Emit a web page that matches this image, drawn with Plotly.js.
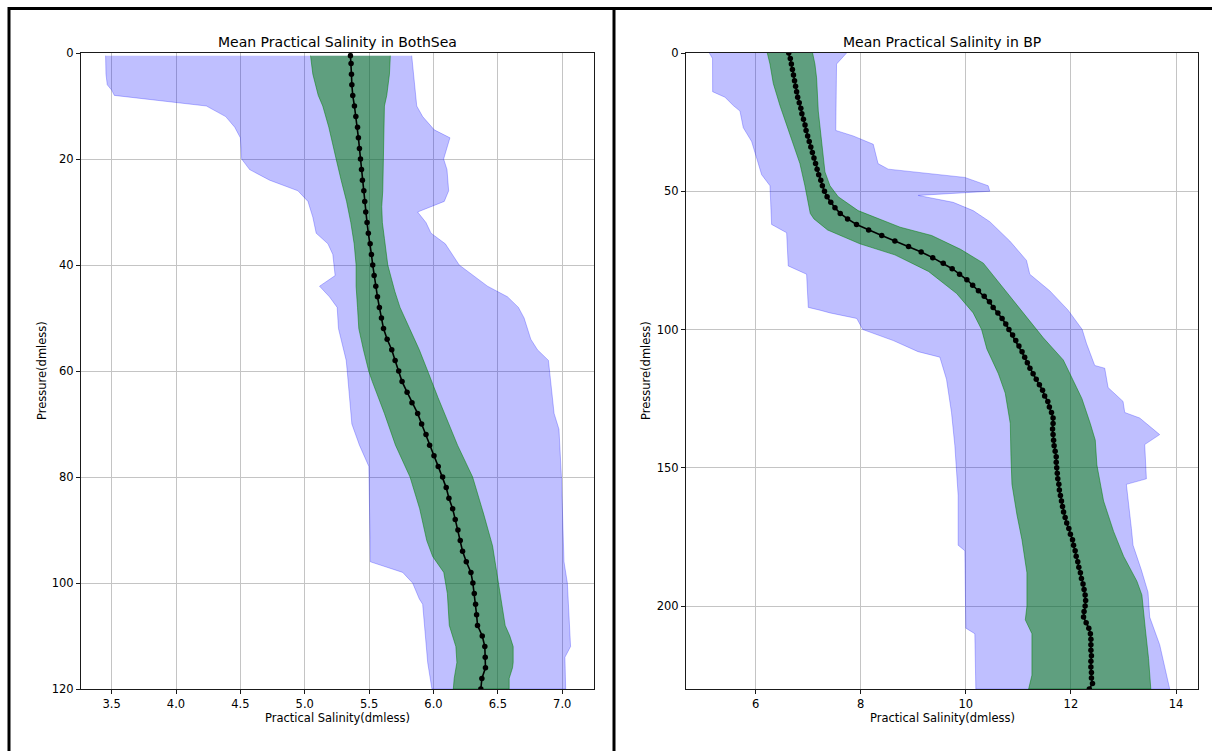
<!DOCTYPE html>
<html>
<head>
<meta charset="utf-8">
<script src="https://cdn.plot.ly/plotly-3.0.1.min.js"></script>
<style>html,body{margin:0;padding:0;background:#fff;}#chart{width:1212px;height:751px;}</style>
</head>
<body>
<div id="chart"></div>
<script>
// ---------- Left panel: BothSea ----------
const depthL = [0.5,2,4,6,8,10,12,14,16,18,20,22,24,26,28,30,32,34,36,38,40,42,44,46,48,50,52,54,56,58,60,62,64,66,68,70,72,74,76,78,80,82,84,86,88,90,92,94,96,98,100,102,104,106,108,110,112,114,116,118,120];
const meanL = [5.355,5.360,5.363,5.366,5.373,5.386,5.397,5.410,5.417,5.425,5.433,5.441,5.448,5.459,5.466,5.474,5.484,5.494,5.508,5.518,5.528,5.539,5.552,5.565,5.580,5.596,5.612,5.640,5.676,5.702,5.730,5.756,5.795,5.833,5.877,5.908,5.942,5.970,6.004,6.037,6.071,6.099,6.120,6.149,6.169,6.190,6.208,6.226,6.255,6.291,6.306,6.317,6.327,6.335,6.342,6.379,6.399,6.402,6.404,6.376,6.368];

const stdLoDepthL = [0.5,4,8,10,14,16,20,24,28,32,36,40,44,48,52,56,60,62,68,74,80,86,92,95,98,102,108,112,115,118,120];
const stdLoL = [5.045,5.063,5.105,5.140,5.187,5.208,5.244,5.283,5.325,5.358,5.384,5.399,5.399,5.410,5.420,5.456,5.497,5.525,5.619,5.705,5.818,5.893,5.948,5.994,6.080,6.108,6.123,6.174,6.182,6.161,6.154];
const stdHiDepthL = [0.5,4,8,10,14,20,26,29,32,35,40,45,48,52,56,60,65,70,74,80,87,93,96,100,104,108,110,112,115,116,118,120];
const stdHiL = [5.665,5.658,5.637,5.619,5.614,5.611,5.606,5.598,5.603,5.619,5.645,5.700,5.740,5.815,5.890,5.955,6.035,6.118,6.187,6.304,6.390,6.459,6.484,6.505,6.531,6.557,6.593,6.619,6.619,6.614,6.588,6.588];

const minDepthL = [0.5,4,6,7,8,10,12,14,16,20,22,24,26,28,31,34,36,38,42,44,46,48,52,58,60,70,74,77,78,96,98,100,103,104,115,120];
const minL = [3.453,3.456,3.466,3.500,3.521,4.236,4.386,4.456,4.500,4.510,4.572,4.727,4.947,5.025,5.063,5.089,5.180,5.218,5.236,5.115,5.192,5.252,5.262,5.322,5.330,5.366,5.425,5.482,5.498,5.510,5.761,5.838,5.890,5.916,5.955,5.988];
const maxDepthL = [0.5,4,10,12,14.5,16,18,20,22,26,28,30,32,34,36,40,44,46,48,50,54,56,58,60,68,71,80,96,100,112,114,120];
const maxL = [5.831,5.844,5.870,5.916,6.006,6.128,6.105,6.079,6.105,6.118,6.084,5.877,5.942,5.981,6.092,6.200,6.420,6.575,6.660,6.704,6.756,6.808,6.893,6.903,6.937,6.975,6.994,7.014,7.040,7.065,7.021,7.027];

// ---------- Right panel: BP ----------
const depthR = [0,2,4,6,8,10,12,14,16,18,20,22,24,26,28,30,32,34,36,38,40,42,44,46,48,50,52,54,56,58,60,62,64,66,68,70,72,74,76,78,80,82,84,86,88,90,92,94,96,98,100,102,104,106,108,110,112,114,116,118,120,122,124,126,128,130,132,134,136,138,140,142,144,146,148,150,152,154,156,158,160,162,164,166,168,170,172,174,176,178,180,182,184,186,188,190,192,194,196,198,200,202,204,206,208,210,212,214,216,218,220,222,224,226,228,230];
const meanR = [6.63,6.66,6.68,6.70,6.72,6.74,6.76,6.78,6.80,6.83,6.86,6.88,6.91,6.94,6.96,6.99,7.02,7.05,7.08,7.11,7.14,7.17,7.20,7.24,7.27,7.31,7.36,7.43,7.51,7.61,7.75,7.92,8.15,8.40,8.65,8.91,9.15,9.37,9.57,9.74,9.88,10.02,10.13,10.24,10.35,10.45,10.52,10.61,10.69,10.76,10.82,10.89,10.95,11.01,11.07,11.12,11.17,11.22,11.28,11.34,11.40,11.46,11.50,11.56,11.59,11.63,11.66,11.66,11.65,11.66,11.67,11.68,11.70,11.72,11.72,11.73,11.74,11.75,11.77,11.78,11.80,11.82,11.84,11.86,11.89,11.92,11.96,11.99,12.03,12.05,12.08,12.10,12.13,12.15,12.18,12.20,12.23,12.25,12.27,12.28,12.27,12.25,12.24,12.29,12.34,12.37,12.38,12.38,12.38,12.39,12.38,12.38,12.39,12.39,12.41,12.35];

const stdLoDepthR = [0,4,11,19,26,33,40,48,55,58,60,64,69,73,79,87,94,100,107,116,123,134,146,156,167,176,188,200,205,210,225,230];
const stdLoR = [6.222,6.273,6.336,6.463,6.590,6.716,6.843,6.938,7.002,7.040,7.110,7.370,7.985,8.650,9.290,9.826,10.140,10.300,10.400,10.620,10.750,10.846,10.859,10.878,10.973,11.068,11.163,11.163,11.132,11.258,11.258,11.195];
const stdHiDepthR = [0,4,9,21,33,43,48,52,57,60,63,66,71,76,85,94,103,111,116,121,125,134,140,149,162,173,182,191,196,201,208,219,230];
const stdHiR = [7.084,7.128,7.160,7.192,7.255,7.319,7.414,7.572,7.950,8.350,8.750,9.350,9.900,10.333,10.713,11.093,11.474,11.854,11.987,12.108,12.209,12.368,12.463,12.494,12.621,12.811,13.002,13.255,13.350,13.382,13.414,13.477,13.520];

const minDepthR = [0,2,14,16,19,21,27,32,38,44,48,62,65,77,80,92,93,94,96,100,104,108,110,118,130,142,160,178,180,208,210,230];
const minR = [5.119,5.180,5.182,5.417,5.575,5.702,5.765,5.924,6.019,6.114,6.273,6.304,6.590,6.621,6.970,7.002,7.223,7.417,7.924,8.040,8.620,9.090,9.506,9.632,9.727,9.791,9.854,9.854,9.981,10.000,10.171,10.190];
const maxDepthR = [0,4,28,30,33,40,42,45,48,50,51.5,54,57,61,68,75,80,86,93,100,105,113,114,121,126,130,132,136,138,141.6,154,156,172,178,187,195,204,214,230];
const maxR = [7.731,7.540,7.525,7.857,8.238,8.330,8.523,9.981,10.425,10.456,9.094,9.759,10.139,10.456,10.837,11.154,11.217,11.597,11.946,12.215,12.295,12.453,12.643,12.707,12.992,13.024,13.309,13.563,13.689,13.404,13.436,13.055,13.151,13.182,13.341,13.467,13.499,13.689,13.880];

const titles = ['Mean Practical Salinity in BothSea', 'Mean Practical Salinity in BP'];
const xLabel = 'Practical Salinity(dmless)';
const yLabel = 'Pressure(dmless)';

// ---------- helpers ----------
function band(loX, loD, hiX, hiD, fill, line, xa, ya) {
  return {
    type: 'scatter', mode: 'lines', xaxis: xa, yaxis: ya,
    x: loX.concat(hiX.slice().reverse()),
    y: loD.concat(hiD.slice().reverse()),
    fill: 'toself', fillcolor: fill,
    line: {color: line, width: 1},
    hoverinfo: 'skip', showlegend: false
  };
}
function meanTrace(x, y, xa, ya) {
  return {
    type: 'scatter', mode: 'lines+markers', xaxis: xa, yaxis: ya,
    x: x, y: y,
    line: {color: 'black', width: 1.6},
    marker: {color: 'black', size: 5.5},
    showlegend: false
  };
}
const BLUE_F = 'rgba(0,0,255,0.25)', BLUE_L = 'rgba(0,0,255,0.25)';
const GREEN_F = 'rgba(0,128,0,0.5)', GREEN_L = 'rgba(0,128,0,0.5)';

const data = [
  band(minL, minDepthL, maxL, maxDepthL, BLUE_F, BLUE_L, 'x', 'y'),
  band(stdLoL, stdLoDepthL, stdHiL, stdHiDepthL, GREEN_F, GREEN_L, 'x', 'y'),
  meanTrace(meanL, depthL, 'x', 'y'),
  band(minR, minDepthR, maxR, maxDepthR, BLUE_F, BLUE_L, 'x2', 'y2'),
  band(stdLoR, stdLoDepthR, stdHiR, stdHiDepthR, GREEN_F, GREEN_L, 'x2', 'y2'),
  meanTrace(meanR, depthR, 'x2', 'y2')
];

const FONT = 'DejaVu Sans, sans-serif';
const W = 1212, H = 751;
const yDom = [1 - 689/H, 1 - 53/H];
const commonAx = {
  showgrid: true, gridcolor: '#c4c4c4', gridwidth: 1,
  zeroline: false, showline: true, linecolor: '#1a1a1a', linewidth: 1, mirror: true,
  ticks: 'outside', ticklen: 4, tickcolor: '#1a1a1a', tickwidth: 1,
  tickfont: {family: FONT, size: 11.5, color: '#000'}
};
function ann(text, xpx, ypx, size, angle) {
  return {text: text, xref: 'paper', yref: 'paper', x: xpx/W, y: 1 - ypx/H,
    xanchor: 'center', yanchor: 'middle', showarrow: false, textangle: angle || 0,
    font: {family: FONT, size: size, color: '#000'}};
}

const layout = {
  width: W, height: H,
  margin: {l: 0, r: 0, t: 0, b: 0},
  paper_bgcolor: '#fff', plot_bgcolor: '#fff',
  showlegend: false,
  xaxis: Object.assign({}, commonAx, {domain: [81/W, 594/W], range: [3.262, 7.247], tick0: 3.5, dtick: 0.5, tickformat: '.1f', anchor: 'y'}),
  yaxis: Object.assign({}, commonAx, {domain: yDom, range: [120, 0], tick0: 0, dtick: 20, anchor: 'x'}),
  xaxis2: Object.assign({}, commonAx, {domain: [686/W, 1198/W], range: [4.675, 14.418], tick0: 0, dtick: 2, anchor: 'y2'}),
  yaxis2: Object.assign({}, commonAx, {domain: yDom, range: [230, 0], tick0: 0, dtick: 50, anchor: 'x2'}),
  annotations: [
    ann(titles[0], 337.5, 42, 14),
    ann(titles[1], 942, 42, 14),
    ann(xLabel, 337.5, 718, 11.5),
    ann(xLabel, 942, 718, 11.5),
    ann(yLabel, 42, 371, 11.5, -90),
    ann(yLabel, 646, 371, 11.5, -90)
  ],
  shapes: [
    {type: 'line', xref: 'paper', yref: 'paper', x0: 8/W, x1: 1, y0: 1 - 8.5/H, y1: 1 - 8.5/H, line: {color: '#000', width: 3}},
    {type: 'line', xref: 'paper', yref: 'paper', x0: 9/W, x1: 9/W, y0: 0, y1: 1 - 7/H, line: {color: '#000', width: 3}},
    {type: 'line', xref: 'paper', yref: 'paper', x0: 614/W, x1: 614/W, y0: 0, y1: 1 - 7/H, line: {color: '#000', width: 3}}
  ]
};

Plotly.newPlot('chart', data, layout, {displayModeBar: false, staticPlot: true});
</script>
</body>
</html>
